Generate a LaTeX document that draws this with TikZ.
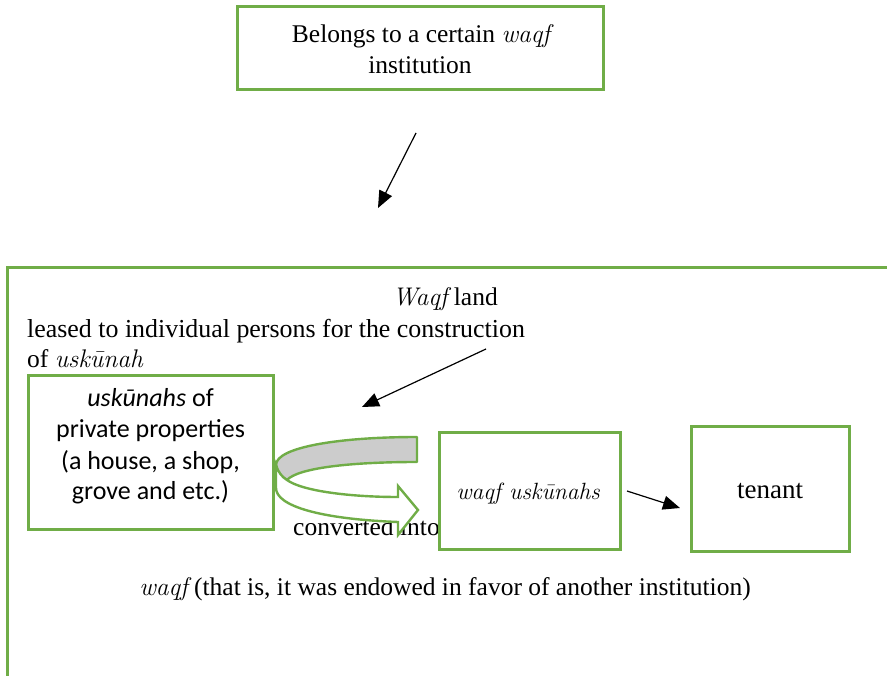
\documentclass[tikz,border=0pt]{standalone}
\usepackage{fontspec}
\setmainfont{Liberation Serif}
\newfontfamily\lmr{Latin Modern Roman}
\newcommand\wi[1]{{\lmr\itshape #1}}
\newfontfamily\calib{Carlito}
\usetikzlibrary{arrows.meta}
\definecolor{boxgreen}{RGB}{112,173,71}
\tikzset{
  gbox/.style={draw=boxgreen, line width=3pt, fill=white, inner sep=0pt},
  serif/.style={font=\fontsize{25.5}{30}\selectfont, inner sep=0pt},
  sans/.style={font=\calib\fontsize{26}{31}\selectfont, inner sep=0pt, align=center},
  blarrow/.style={draw=black, line width=1.2pt, -{Triangle[length=17pt,width=14pt]}},
}
\begin{document}
\begin{tikzpicture}[x=1pt,y=-1pt]
\useasboundingbox (0,0) rectangle (887,676);
% big container (only left and top edges visible)
\draw[boxgreen, line width=3pt] (7,680) -- (7,268) -- (890,268);
% top box
\node[gbox, minimum width=366pt, minimum height=83pt] (top) at (420,48.5) {};
\node[serif, anchor=base] (t1) at (421,43) {Belongs to a certain \wi{waqf}};
\node[serif, anchor=base] (t2) at (420,74) {institution};
\coordinate (a1s) at (416,133);
\coordinate (a1e) at (378,208);
\draw[blarrow] (a1s) -- (a1e);
% texts in container
\node[serif, anchor=base east] (wl) at (498,306) {\wi{Waqf} land};
\node[serif, anchor=base west, font=\fontsize{25.9}{30}\selectfont] (ls) at (27,338) {leased to individual persons for the construction};
\node[serif, anchor=base west] (of) at (27,368) {of \wi{uskūnah}};
\coordinate (a2s) at (486,349);
\coordinate (a2e) at (362,407);
\draw[blarrow] (a2s) -- (a2e);
% left box
\node[gbox, minimum width=245pt, minimum height=153pt] (priv) at (150.5,452.5) {};
\node[sans, anchor=base] (p1) at (150.5,407) {\textit{uskūnahs} of};
\node[sans, anchor=base] (p2) at (150.5,438) {private properties};
\node[sans, anchor=base] (p3) at (150.5,470) {(a house, a shop,};
\node[sans, anchor=base] (p4) at (150.5,500) {grove and etc.)};
% converted into (partly hidden)
\node[serif, anchor=base west] (conv) at (293,535) {converted into};
% curved arrow
\draw[boxgreen, line width=2.4pt, fill=black!20, line join=round]
  (417,437) -- (417,462) .. controls (350,462) and (298,468) .. (287,480)
  .. controls (280,476) and (276,471) .. (276,465)
  .. controls (276,447) and (340,437) .. (417,437) -- cycle;
\draw[boxgreen, line width=2.4pt, fill=white, line join=miter]
  (276,465) .. controls (278,472) and (282,477) .. (287,480)
  .. controls (302,491) and (350,497) .. (398,497) -- (398,486) -- (418,510)
  -- (398,535) -- (398,522) .. controls (320,519) and (276,506) .. (276,488) -- cycle;
% waqf uskunahs box
\node[gbox, minimum width=181pt, minimum height=116pt] (wu) at (529.5,491) {};
\node[serif, anchor=base, font=\fontsize{23.5}{30}\selectfont] (wut) at (528,499) {\wi{waqf uskūnahs}};
% tenant box
\node[gbox, minimum width=158pt, minimum height=124pt] (ten) at (770,489) {};
\node[serif, anchor=base, font=\fontsize{27}{30}\selectfont] (tent) at (770,498) {tenant};
\coordinate (a3s) at (627,491);
\coordinate (a3e) at (680,508);
\draw[blarrow] (a3s) -- (a3e);
% bottom text
\node[serif, anchor=base] (bot) at (445,595) {\wi{waqf} (that is, it was endowed in favor of another institution)};
\end{tikzpicture}
\end{document}
